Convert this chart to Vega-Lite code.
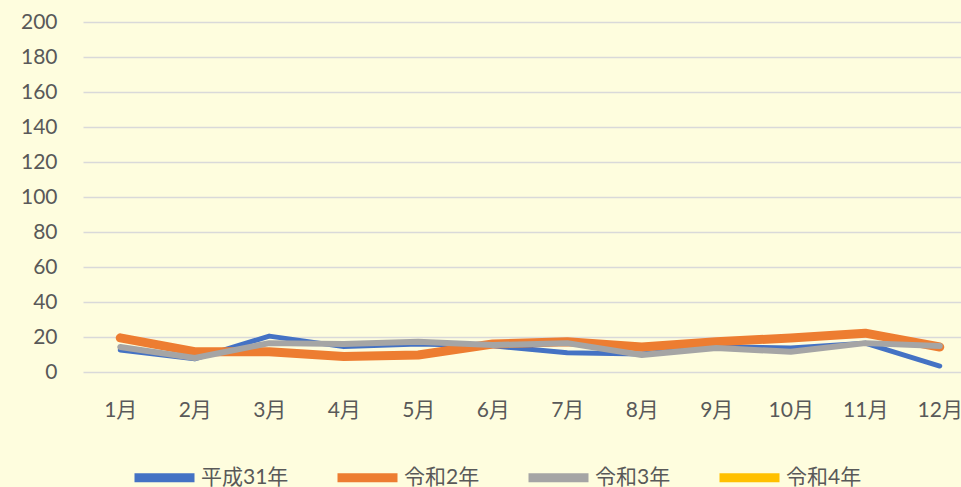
{
  "$schema": "https://vega.github.io/schema/vega-lite/v6.json",
  "autosize": "none",
  "width": 894,
  "height": 350,
  "padding": {"left": 83, "top": 22, "right": 0, "bottom": 115},
  "background": "#FEFDDE",
  "config": {
    "view": {"stroke": null},
    "font": "Lato, Noto Sans CJK JP",
    "axis": {"labelFont": "Lato, Noto Sans CJK JP", "labelColor": "#595959", "labelFontSize": 21, "ticks": false, "domain": false, "title": null}
  },
  "data": {
    "values": [
      {"month": "1月", "series": "平成31年", "value": 12.5},
      {"month": "2月", "series": "平成31年", "value": 7.5},
      {"month": "3月", "series": "平成31年", "value": 20.5},
      {"month": "4月", "series": "平成31年", "value": 14.5},
      {"month": "5月", "series": "平成31年", "value": 16},
      {"month": "6月", "series": "平成31年", "value": 15},
      {"month": "7月", "series": "平成31年", "value": 11},
      {"month": "8月", "series": "平成31年", "value": 10.3},
      {"month": "9月", "series": "平成31年", "value": 14.5},
      {"month": "10月", "series": "平成31年", "value": 13.7},
      {"month": "11月", "series": "平成31年", "value": 16.5},
      {"month": "12月", "series": "平成31年", "value": 3.4},
      {"month": "1月", "series": "令和2年", "value": 19.5},
      {"month": "2月", "series": "令和2年", "value": 11.6},
      {"month": "3月", "series": "令和2年", "value": 11.6},
      {"month": "4月", "series": "令和2年", "value": 8.8},
      {"month": "5月", "series": "令和2年", "value": 9.7},
      {"month": "6月", "series": "令和2年", "value": 16},
      {"month": "7月", "series": "令和2年", "value": 17.3},
      {"month": "8月", "series": "令和2年", "value": 14.3},
      {"month": "9月", "series": "令和2年", "value": 17.3},
      {"month": "10月", "series": "令和2年", "value": 19.4},
      {"month": "11月", "series": "令和2年", "value": 22.2},
      {"month": "12月", "series": "令和2年", "value": 14.3},
      {"month": "1月", "series": "令和3年", "value": 14.3},
      {"month": "2月", "series": "令和3年", "value": 8},
      {"month": "3月", "series": "令和3年", "value": 16.5},
      {"month": "4月", "series": "令和3年", "value": 16},
      {"month": "5月", "series": "令和3年", "value": 17.3},
      {"month": "6月", "series": "令和3年", "value": 15.4},
      {"month": "7月", "series": "令和3年", "value": 16.5},
      {"month": "8月", "series": "令和3年", "value": 9.7},
      {"month": "9月", "series": "令和3年", "value": 13.7},
      {"month": "10月", "series": "令和3年", "value": 11.6},
      {"month": "11月", "series": "令和3年", "value": 16.5},
      {"month": "12月", "series": "令和3年", "value": 14.9}
    ]
  },
  "encoding": {
    "x": {"field": "month", "type": "ordinal", "sort": null,
          "scale": {"type": "point", "padding": 0.5},
          "axis": {"labelAngle": 0, "labelPadding": 27, "grid": false}},
    "y": {"field": "value", "type": "quantitative",
          "scale": {"domain": [0, 200]},
          "axis": {"values": [0,20,40,60,80,100,120,140,160,180,200], "labelPadding": 26, "gridColor": "#D9D9D9", "gridWidth": 1.5}},
    "color": {"field": "series", "type": "nominal",
              "scale": {"domain": ["平成31年", "令和2年", "令和3年", "令和4年"], "range": ["#4472C4", "#ED7D31", "#A5A5A5", "#FFC000"]},
              "legend": {"orient": "none", "legendX": 47, "legendY": 421, "direction": "horizontal", "title": null,
                         "symbolType": "stroke", "symbolSize": 3600, "symbolStrokeWidth": 9, "symbolOpacity": 1,
                         "labelFontSize": 21, "labelColor": "#595959", "labelOffset": 2, "columnPadding": 30, "padding": 0}}
  },
  "layer": [
    {"transform": [{"filter": "datum.series === '平成31年'"}], "mark": {"type": "line", "strokeWidth": 5, "strokeCap": "round", "strokeJoin": "round"}},
    {"transform": [{"filter": "datum.series === '令和2年'"}], "mark": {"type": "line", "strokeWidth": 9, "strokeCap": "round", "strokeJoin": "round"}},
    {"transform": [{"filter": "datum.series === '令和3年'"}], "mark": {"type": "line", "strokeWidth": 6, "strokeCap": "round", "strokeJoin": "round"}}
  ]
}
